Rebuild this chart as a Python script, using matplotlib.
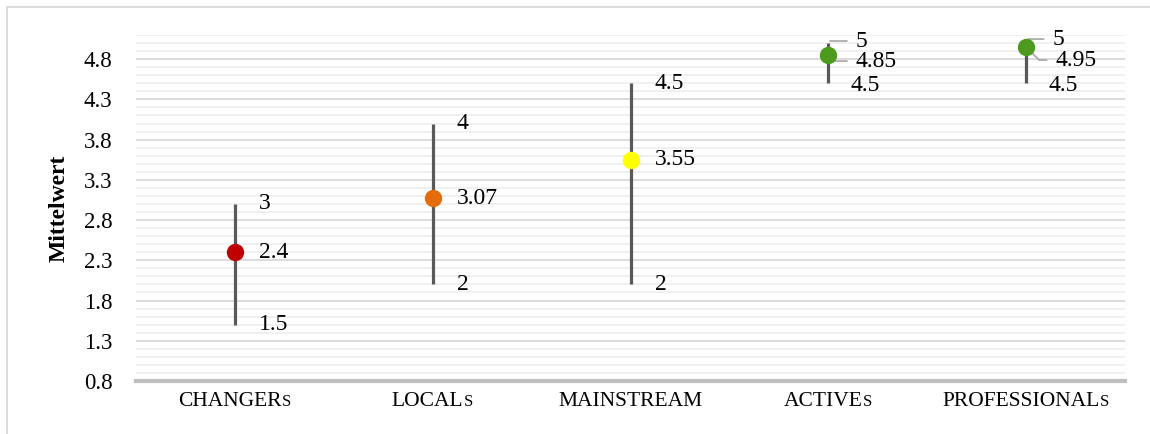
import matplotlib.pyplot as plt
from matplotlib.patches import Rectangle
import numpy as np

gruppen = ['CHANGER', 'LOCAL', 'MAINSTREAM', 'ACTIVE', 'PROFESSIONAL']
endung = ['s', 's', '', 's', 's']          # small-caps suffix
mittelwert = [2.4, 3.07, 3.55, 4.85, 4.95]
minimum = [1.5, 2, 2, 4.5, 4.5]
maximum = [3, 4, 4.5, 5, 5]
farben = ['#C00000', '#E46C0A', '#FFFF00', '#4E9A1F', '#4E9A1F']

# label offsets in pixels (max, mean, min) for the crowded groups
versatz = {3: [(27, 2), (27, -6), (22, -2)],
           4: [(26, 4), (29, -13), (22, -2)]}

plt.rcParams['font.family'] = 'Liberation Serif'

fig = plt.figure(figsize=(11.5, 4.34), dpi=100)
ax = fig.add_axes([136/1150, 1-381/434, 989/1150, (381-35)/434])

x = np.arange(len(gruppen))
for i in x:
    ax.vlines(i, minimum[i], maximum[i], color='#595959', lw=2.3, zorder=3)
    ax.plot(i, mittelwert[i], 'o', ms=11.5, color=farben[i], mec=farben[i], zorder=4)

ax.set_xlim(-0.5, len(gruppen) - 0.5)
ax.set_ylim(0.8, 5.1)
yt = np.arange(0.8, 5.0, 0.5)
ax.set_yticks(yt)
ax.set_yticklabels(['%.1f' % v for v in yt], fontsize=16.5)
ax.set_yticks(np.arange(0.8, 5.11, 0.1), minor=True)
ax.tick_params(axis='y', which='both', length=0, pad=17)
ax.set_xticks(x)
ax.set_xticklabels([])
ax.tick_params(axis='x', length=0)
ax.grid(True, axis='y', which='major', color='#d9d9d9', lw=1.3)
ax.grid(True, axis='y', which='minor', color='#efefef', lw=1.3)
ax.set_axisbelow(True)
for s in ['top', 'right', 'left']:
    ax.spines[s].set_visible(False)
ax.spines['bottom'].set_color('#bfbfbf')
ax.spines['bottom'].set_linewidth(3)
ax.set_ylabel('Mittelwert', fontsize=17, fontweight='bold', labelpad=10)

# category names with small-caps "s"
for i in x:
    dx = -5 if endung[i] else 0
    t = ax.annotate(gruppen[i], (i, 0), xycoords=('data', 'axes fraction'),
                    xytext=(dx, -25), textcoords='offset pixels',
                    ha='center', va='baseline', fontsize=15.5)
    if endung[i]:
        ax.annotate(endung[i].upper(), (1, 0), xycoords=t,
                    xytext=(0.5, 1), textcoords='offset pixels',
                    ha='left', va='bottom', fontsize=12)

# value labels; crowded groups get leader lines
lbl = dict(fontsize=17, va='center', ha='left', textcoords='offset pixels')
leader = dict(arrowstyle='-', color='#a6a6a6', lw=1.2, shrinkA=4, shrinkB=2,
              relpos=(0, 0.5))
for i in x:
    if i not in versatz:
        for v in (maximum[i], mittelwert[i], minimum[i]):
            ax.annotate('%g' % v, (i, v), xytext=(24, 0), **lbl)
    else:
        o_max, o_mit, o_min = versatz[i]
        ax.annotate('%g' % maximum[i], (i, maximum[i]), xytext=o_max,
                    arrowprops=dict(connectionstyle='angle,angleA=0,angleB=60,rad=0',
                                    **leader), **lbl)
        ax.annotate('%g' % mittelwert[i], (i, mittelwert[i]), xytext=o_mit,
                    arrowprops=dict(connectionstyle='angle,angleA=0,angleB=-45,rad=0',
                                    **leader), **lbl)
        ax.annotate('%g' % minimum[i], (i, minimum[i]), xytext=o_min, **lbl)

fig.add_artist(Rectangle((7/1150, -0.05), 1.05, 1.05 - 7/434, transform=fig.transFigure,
                         fill=False, ec='#d9d9d9', lw=1.3))

fig.savefig('out.png', dpi=100)
